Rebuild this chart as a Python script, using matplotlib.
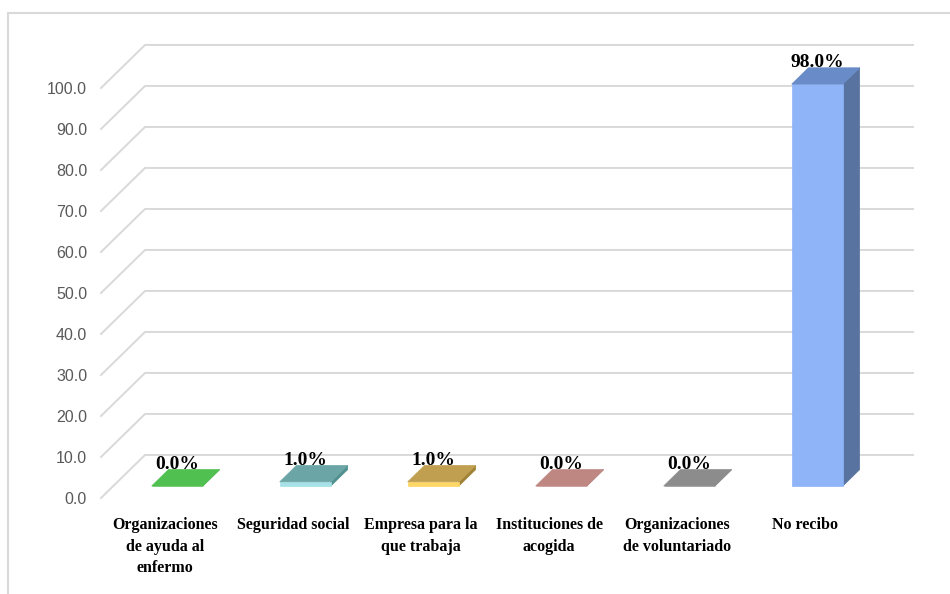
import matplotlib.pyplot as plt
from matplotlib.patches import Polygon, Rectangle
import numpy as np

# Support sources and share of respondents (%)
categories = [
    'Organizaciones\nde ayuda al\nenfermo',
    'Seguridad social',
    'Empresa para la\nque trabaja',
    'Instituciones de\nacogida',
    'Organizaciones\nde voluntariado',
    'No recibo',
]
values = [0.0, 1.0, 1.0, 0.0, 0.0, 98.0]
yticks = np.arange(0, 101, 10)

# face colours per bar: front, top, side
front_colors = ['#55c855', '#a5e1e6', '#ffd764', '#c8908a', '#969696', '#8fb4f8']
top_colors = ['#50c050', '#6ba5a5', '#c0a050', '#be8782', '#8c8c8c', '#698cc8']
side_colors = ['#3f9a3f', '#50908f', '#a08236', '#9c6d68', '#707070', '#5873a0']

# fake 3D projection: offset of the back wall in data units
DX, DY = 0.344, 10.5
D0, D1 = 0.28, 0.66      # bar depth range (0 = front, 1 = back wall)
W = 0.4                  # bar width

fig = plt.figure(figsize=(9.5, 5.94), dpi=100)
ax = fig.add_axes([101 / 950, 96 / 594, 768 / 950, 410 / 594])
ax.set_xlim(-0.5, 5.5)
ax.set_ylim(0, 100)
for s in ax.spines.values():
    s.set_visible(False)
ax.patch.set_visible(False)

# outer chart frame
fig.patches.append(Rectangle((8 / 950, -0.02), 1.0, (594 - 13) / 594 + 0.02,
                             transform=fig.transFigure, fill=False,
                             edgecolor='#d9d9d9', linewidth=1.5))

# gridlines on side wall and back wall
for t in yticks:
    ax.plot([-0.5, -0.5 + DX, 5.5 + DX], [t, t + DY, t + DY],
            color='#d9d9d9', linewidth=1.4, clip_on=False, zorder=1)

dd = D1 - D0
for i, v in enumerate(values):
    x0 = i - W / 2 + D0 * DX
    x1 = i + W / 2 + D0 * DX
    yb = D0 * DY
    yt = v + D0 * DY
    front = [(x0, yb), (x1, yb), (x1, yt), (x0, yt)]
    top = [(x0, yt), (x1, yt), (x1 + dd * DX, yt + dd * DY), (x0 + dd * DX, yt + dd * DY)]
    side = [(x1, yb), (x1 + dd * DX, yb + dd * DY), (x1 + dd * DX, yt + dd * DY), (x1, yt)]
    for pts, c in [(side, side_colors[i]), (front, front_colors[i]), (top, top_colors[i])]:
        ax.add_patch(Polygon(pts, closed=True, facecolor=c, edgecolor=c,
                             linewidth=0.5, clip_on=False, zorder=2))
    ax.text((x0 + x1) / 2, v + D1 * DY + 0.2, f'{v:.1f}%', ha='center', va='baseline',
            fontsize=14, fontweight='bold', family='Liberation Serif',
            color='black', zorder=3, clip_on=False)

ax.set_yticks(yticks)
ax.set_yticklabels([f'{t:.1f}' for t in yticks], fontsize=11.5,
                   color='#595959', family='Liberation Sans')
ax.set_xticks(range(len(categories)))
ax.set_xticklabels(categories, fontsize=11.5, fontweight='bold',
                   family='Liberation Serif', linespacing=1.45)
ax.tick_params(axis='y', length=0, pad=10)
ax.tick_params(axis='x', length=0, pad=14)

fig.savefig('out.png', dpi=100)
